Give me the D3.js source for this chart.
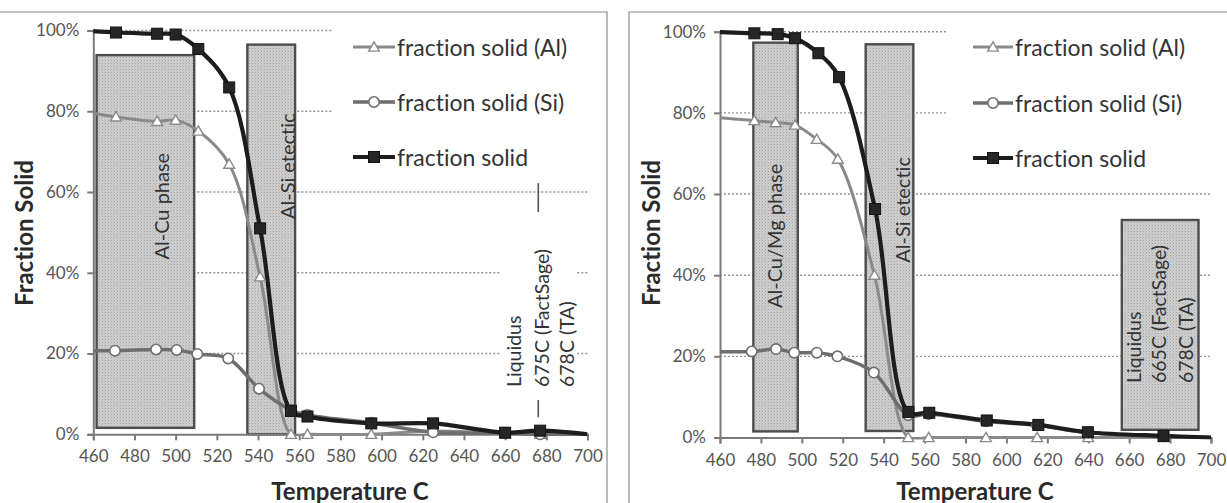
<!DOCTYPE html>
<html><head><meta charset="utf-8">
<script src="https://cdn.jsdelivr.net/npm/d3@7"></script>
<style>
body{margin:0;background:#fff}
svg{display:block}
text{font-family:Lato,"Open Sans",sans-serif;font-variant-ligatures:none}
</style>
</head><body>
<svg id="chart" width="1227" height="503"></svg>
<script>
// ---------- shared axis data ----------
const xTickValues = [460, 480, 500, 520, 540, 560, 580, 600, 620, 640, 660, 680, 700];
const yTickValues = [0, 20, 40, 60, 80, 100];
const seriesNames = ["fraction solid (Al)", "fraction solid (Si)", "fraction solid"];
const xTitle = "Temperature C";
const yTitle = "Fraction Solid";

// ---------- left panel data ----------
const leftAlTemp   = [455, 471, 491, 500, 511, 526, 541, 556, 564, 595, 625, 660, 677, 700];
const leftAlFrac   = [80, 78.6, 77.5, 77.8, 75.1, 66.9, 39, 0, 0, 0, 0.8, 0.2, 0, 0];
const leftSiTemp   = [455, 470.5, 490.5, 500.5, 510.5, 525.5, 540.5, 556, 564, 595, 625, 660, 677, 700];
const leftSiFrac   = [20.7, 20.7, 21, 20.9, 19.9, 18.8, 11.3, 6, 4.8, 2.8, 0.5, 0.3, 0, 0];
const leftFsTemp   = [455, 471, 491, 500, 511, 526, 541, 556, 564, 595, 625, 660, 677, 700];
const leftFsFrac   = [100, 99.5, 99.2, 99, 95.4, 85.9, 51, 5.8, 4.4, 2.7, 2.7, 0.4, 0.9, 0];
// annotation boxes: [tempFrom, tempTo, fracBottom, fracTop]
const leftBoxes    = [[461.6, 509, 1.6, 93.9], [534.8, 558, 0, 96.5]];
const leftBoxLabels = ["Al-Cu phase", "Al-Si etectic"];
const leftBoxLabelAt = [[493, 56.5], [553.9, 66.4]];
const leftLiquidusLines = ["Liquidus", "675C (FactSage)", "678C (TA)"];
const leftLiquidusTemp = 676.1;
const leftLiquidusTick = [62.2, 4.2];

// ---------- right panel data ----------
const rightAlTemp  = [455, 476.8, 487.2, 496.7, 507.3, 517.6, 535.5, 552, 562, 590, 615, 640, 677, 700];
const rightAlFrac  = [79, 78.1, 77.6, 77, 73.5, 68.6, 40, 0, 0, 0, 0, 0, 0, 0];
const rightSiTemp  = [455, 475.5, 487.4, 496.3, 507.3, 517.4, 535.2, 552, 562, 590, 615, 640, 677, 700];
const rightSiFrac  = [21.2, 21.2, 21.8, 20.9, 20.9, 20, 16, 5.5, 5.8, 4, 3, 1.2, 0.3, 0];
const rightFsTemp  = [455, 476.8, 488.2, 496.7, 508.1, 518.2, 535.8, 552.1, 562.3, 590.4, 615.6, 639.8, 676.8, 700];
const rightFsFrac  = [100, 99.6, 99.4, 98.4, 94.7, 88.8, 56.3, 6.3, 6.1, 4.2, 3.1, 1.3, 0.4, 0];
const rightBoxes   = [[476.3, 498, 1.5, 97.3], [531.2, 554.5, 1.6, 96.9], [656.4, 693.9, 1.9, 53.6]];
const rightBoxLabels = ["Al-Cu/Mg phase", "Al-Si etectic"];
const rightBoxLabelAt = [[486.6, 49.7], [549.1, 56.1]];
const rightLiquidusLines = ["Liquidus", "665C (FactSage)", "678C (TA)"];

// ---------- drawing ----------
const svg = d3.select("#chart");
const defs = svg.append("defs");
const pat = defs.append("pattern").attr("id", "stipple").attr("patternUnits", "userSpaceOnUse")
  .attr("width", 3).attr("height", 3);
pat.append("rect").attr("width", 3).attr("height", 3).attr("fill", "#cecece");
pat.append("rect").attr("x", 0).attr("y", 0).attr("width", 1).attr("height", 1).attr("fill", "#a4a4a4");
pat.append("rect").attr("x", 2).attr("y", 1.5).attr("width", 1).attr("height", 1).attr("fill", "#b8b8b8");

const styles = {
  al: {stroke: "#8a8a8a", width: 3, marker: "triangle"},
  si: {stroke: "#6e6e6e", width: 3.5, marker: "circle"},
  fs: {stroke: "#1d1d1d", width: 4.2, marker: "square"}
};

function drawMarker(g, type, cx, cy, st) {
  if (type === "square") {
    g.append("rect").attr("x", cx - 5.5).attr("y", cy - 5.5).attr("width", 11).attr("height", 11)
      .attr("fill", "#262626").attr("stroke", "#111").attr("stroke-width", 1);
  } else if (type === "circle") {
    g.append("circle").attr("cx", cx).attr("cy", cy).attr("r", 5.2)
      .attr("fill", "#fff").attr("stroke", st.stroke).attr("stroke-width", 1.6);
  } else {
    g.append("path").attr("d", d3.symbol(d3.symbolTriangle, 50)())
      .attr("transform", `translate(${cx},${cy + 1})`)
      .attr("fill", "#fff").attr("stroke", st.stroke).attr("stroke-width", 1.4);
  }
}

function panel(cfg) {
  const x = d3.scaleLinear().domain([460, 700]).range([cfg.px0, cfg.px1]);
  const y = d3.scaleLinear().domain([0, 100]).range([cfg.py1, cfg.py0]);
  const g = svg.append("g");

  // frame
  g.append("path").attr("d", cfg.frame).attr("fill", "none").attr("stroke", "#8c8c8c").attr("stroke-width", 1.2);

  // gridlines
  g.append("g").selectAll("line").data(yTickValues.filter(v => v > 0)).join("line")
    .attr("x1", cfg.px0).attr("x2", cfg.px1).attr("y1", d => y(d)).attr("y2", d => y(d))
    .attr("stroke", "#949494").attr("stroke-width", 1.4).attr("stroke-dasharray", "2,2");

  // annotation boxes
  g.append("g").selectAll("rect").data(cfg.boxes).join("rect")
    .attr("x", d => x(d[0])).attr("width", d => x(d[1]) - x(d[0]))
    .attr("y", d => y(d[3])).attr("height", d => y(d[2]) - y(d[3]))
    .attr("fill", "url(#stipple)").attr("stroke", "#4d4d4d").attr("stroke-width", 2.4);

  // axes
  const xAxis = d3.axisBottom(x).tickValues(xTickValues).tickSize(6).tickPadding(10).tickFormat(d3.format("d"));
  const ya = g.append("g").attr("transform", `translate(0,${cfg.py1})`).call(xAxis);
  const yAxis = d3.axisLeft(y).tickValues(yTickValues).tickSize(6).tickPadding(8).tickFormat(d => d + "%");
  const yb = g.append("g").attr("transform", `translate(${cfg.px0},0)`).call(yAxis);
  [ya, yb].forEach(a => {
    a.select(".domain").attr("stroke", "#7a7a7a").attr("stroke-width", 2);
    a.selectAll(".tick line").attr("stroke", "#7a7a7a").attr("stroke-width", 2);
    a.selectAll(".tick text").attr("fill", "#555").style("font-size", "17px").style("font-family", "Lato");
  });

  // axis titles
  g.append("text").attr("x", cfg.xTitleX).attr("y", 490).attr("text-anchor", "middle")
    .attr("dominant-baseline", "central").attr("font-weight", "bold").attr("font-size", 24)
    .attr("fill", "#2a2a2a").text(xTitle);
  g.append("text").attr("transform", `translate(${cfg.yTitleX},${233}) rotate(-90)`).attr("text-anchor", "middle")
    .attr("dominant-baseline", "central").attr("font-weight", "bold").attr("font-size", 24)
    .attr("fill", "#2a2a2a").text(yTitle);

  // box labels
  cfg.boxLabels.forEach((t, i) => {
    const p = cfg.boxLabelAt[i];
    g.append("text").attr("transform", `translate(${x(p[0])},${y(p[1])}) rotate(-90)`)
      .attr("text-anchor", "middle").attr("dominant-baseline", "central")
      .attr("font-size", 20).attr("fill", "#333").text(t);
  });

  // liquidus marker + text block
  if (cfg.liqTick) {
    g.append("line").attr("x1", x(cfg.liqTemp)).attr("x2", x(cfg.liqTemp))
      .attr("y1", y(cfg.liqTick[0])).attr("y2", y(cfg.liqTick[1])).attr("stroke", "#555").attr("stroke-width", 1.6);
    g.append("rect").attr("x", cfg.liqWhite[0]).attr("y", cfg.liqWhite[1])
      .attr("width", cfg.liqWhite[2]).attr("height", cfg.liqWhite[3]).attr("fill", "#fff");
  }
  cfg.liqLines.forEach((t, i) => {
    g.append("text").attr("transform", `translate(${cfg.liqX[i]},${cfg.liqBottom}) rotate(-90)`)
      .attr("text-anchor", "start").attr("dominant-baseline", "central")
      .attr("font-size", 19.5).attr("fill", "#333").text(t);
  });

  // series lines (clipped to plot)
  const clipId = "clip" + cfg.id;
  defs.append("clipPath").attr("id", clipId).append("rect")
    .attr("x", cfg.px0).attr("y", cfg.py0 - 10).attr("width", cfg.px1 - cfg.px0).attr("height", cfg.py1 - cfg.py0 + 12);
  const line = d3.line().x(d => x(d[0])).y(d => y(d[1])).curve(d3.curveCatmullRom.alpha(0.5));
  const series = [
    {key: "al", t: cfg.alT, v: cfg.alV},
    {key: "si", t: cfg.siT, v: cfg.siV},
    {key: "fs", t: cfg.fsT, v: cfg.fsV}
  ];
  const lg = g.append("g").attr("clip-path", `url(#${clipId})`);
  series.forEach(s => {
    const pts = s.t.map((t, i) => [t, s.v[i]]);
    lg.append("path").attr("d", line(pts)).attr("fill", "none")
      .attr("stroke", styles[s.key].stroke).attr("stroke-width", styles[s.key].width)
      .attr("stroke-linejoin", "round");
  });
  series.forEach(s => {
    const mg = g.append("g");
    s.t.forEach((t, i) => {
      if (t < 460 || t >= 700) return;
      drawMarker(mg, styles[s.key].marker, x(t), y(s.v[i]), styles[s.key]);
    });
  });

  // legend
  const leg = g.append("g");
  leg.append("rect").attr("x", cfg.legBox[0]).attr("y", cfg.legBox[1]).attr("width", cfg.legBox[2])
    .attr("height", cfg.legBox[3]).attr("fill", "#fff");
  ["al", "si", "fs"].forEach((k, i) => {
    const yy = cfg.legY[i];
    leg.append("line").attr("x1", cfg.legX0).attr("x2", cfg.legX1).attr("y1", yy).attr("y2", yy)
      .attr("stroke", styles[k].stroke).attr("stroke-width", styles[k].width);
    drawMarker(leg, styles[k].marker, (cfg.legX0 + cfg.legX1) / 2, yy, styles[k]);
    leg.append("text").attr("x", cfg.legX1 + 2).attr("y", yy).attr("dominant-baseline", "central")
      .attr("font-size", 23).attr("fill", "#333").text(seriesNames[i]);
  });
}

panel({
  id: "L", px0: 93.3, px1: 587.5, py0: 30.5, py1: 434.3,
  frame: "M0,12H607V503",
  xTitleX: 350, yTitleX: 23,
  boxes: leftBoxes, boxLabels: leftBoxLabels, boxLabelAt: leftBoxLabelAt,
  liqTemp: leftLiquidusTemp, liqTick: leftLiquidusTick, liqWhite: [500, 212, 77, 188],
  liqLines: leftLiquidusLines, liqX: [513, 541.7, 566.7], liqBottom: 387,
  alT: leftAlTemp, alV: leftAlFrac, siT: leftSiTemp, siV: leftSiFrac, fsT: leftFsTemp, fsV: leftFsFrac,
  legBox: [333, 18, 267, 164], legX0: 353, legX1: 395, legY: [47, 102, 157]
});
panel({
  id: "R", px0: 720, px1: 1211, py0: 31.7, py1: 437.5,
  frame: "M629,503V12H1227",
  xTitleX: 975, yTitleX: 650,
  boxes: rightBoxes, boxLabels: rightBoxLabels, boxLabelAt: rightBoxLabelAt,
  liqTemp: null, liqTick: null,
  liqLines: rightLiquidusLines, liqX: [1133.3, 1158.3, 1185], liqBottom: 383,
  alT: rightAlTemp, alV: rightAlFrac, siT: rightSiTemp, siV: rightSiFrac, fsT: rightFsTemp, fsV: rightFsFrac,
  legBox: [948, 18, 267, 167], legX0: 973, legX1: 1013, legY: [47, 103, 158]
});
</script>
</body></html>
